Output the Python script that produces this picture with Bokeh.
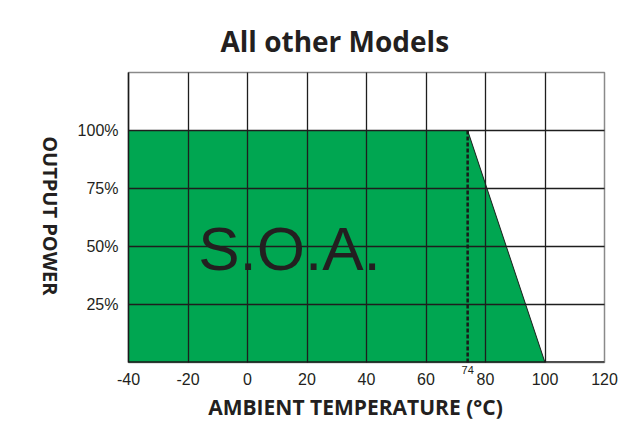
import math
from bokeh.plotting import figure
from bokeh.models import Range1d, FixedTicker, Label, LinearAxis, Span
from bokeh.embed import file_html
from bokeh.resources import INLINE

# data
soa_temp = [-40, -40, 74, 100]
soa_power = [0, 100, 100, 0]
derate_start = 74
x_ticks = [-40, -20, 0, 20, 40, 60, 80, 100, 120]
x_tick_labels = {-40: "-40", -20: "-20", 0: "0", 20: "20", 40: "40", 60: "60",
                 80: "80", 100: "100", 120: "120"}
y_ticks = [25, 50, 75, 100]
y_tick_labels = {25: "25%", 50: "50%", 75: "75%", 100: "100%"}
x_title = "AMBIENT TEMPERATURE (°C)"
y_title = "OUTPUT POWER"

# layout anchors for the axis titles (in axis units)
X_TITLE_AT = 36.3
Y_TITLE_END_AT = 28.9

p = figure(width=624, height=424, output_backend="svg", toolbar_location=None,
           x_range=Range1d(-40, 120), y_range=Range1d(0, 125),
           min_border_left=128, min_border_right=20, min_border_top=72, min_border_bottom=62)

p.title.text = "All other Models"
p.title.align = "left"
p.title.offset = 92
p.title.text_font = "Open Sans"
p.title.text_font_style = "bold"
p.title.text_font_size = "28px"
p.title.text_color = "#231f20"
p.title.standoff = 25

p.outline_line_color = "#8a8a8a"
p.outline_line_width = 1.5

# SOA area
p.patch(soa_temp, soa_power, fill_color="#00a651", line_color="#1a1a1a", line_width=1)

# grids
p.xaxis.ticker = FixedTicker(ticks=x_ticks)
p.yaxis.ticker = FixedTicker(ticks=y_ticks)
p.xgrid.ticker = FixedTicker(ticks=x_ticks)
p.ygrid.ticker = FixedTicker(ticks=y_ticks)
for g in (p.xgrid, p.ygrid):
    g.grid_line_color = "#1e1e1e"
    g.grid_line_width = 1.3
    g.level = "annotation"

# dashed line at 74
dl = p.line([derate_start, derate_start], [0, 100], line_color="#1a1a1a", line_width=2.5, line_dash="4 2")
dl.level = "overlay"

p.add_layout(Span(location=0, dimension="width", line_color="#1a1a1a", line_width=2.5, level="overlay"))


def bare_axis(ax):
    ax.axis_line_color = None
    ax.major_tick_line_color = None
    ax.minor_tick_line_color = None
    ax.major_label_text_color = "#231f20"
    return ax


main_x = bare_axis(p.xaxis[0])
main_x.major_label_text_font = "Liberation Sans"
main_x.major_label_text_font_size = "16px"
main_x.major_label_overrides = x_tick_labels
main_x.major_label_standoff = -10

# small "74" marker label just under the frame
ax74 = bare_axis(LinearAxis(ticker=FixedTicker(ticks=[derate_start])))
ax74.major_label_text_font = "Liberation Sans"
ax74.major_label_text_font_size = "11px"
ax74.major_label_standoff = -3

# x title
ax_xt = bare_axis(LinearAxis(ticker=FixedTicker(ticks=[X_TITLE_AT])))
ax_xt.major_label_overrides = {X_TITLE_AT: x_title}
ax_xt.major_label_text_font = "Open Sans"
ax_xt.major_label_text_font_style = "bold"
ax_xt.major_label_text_font_size = "21px"
ax_xt.major_label_standoff = -1

p.below = [ax74, main_x, ax_xt]

main_y = p.yaxis[0]
main_y.major_tick_line_color = None
main_y.minor_tick_line_color = None
main_y.axis_line_color = "#1a1a1a"
main_y.axis_line_width = 1.5
main_y.major_label_text_font = "Liberation Sans"
main_y.major_label_text_font_size = "16px"
main_y.major_label_text_color = "#231f20"
main_y.major_label_overrides = y_tick_labels
main_y.major_label_standoff = 4

ax_yt = bare_axis(LinearAxis(ticker=FixedTicker(ticks=[Y_TITLE_END_AT])))
ax_yt.major_label_overrides = {Y_TITLE_END_AT: y_title}
ax_yt.major_label_text_font = "Open Sans"
ax_yt.major_label_text_font_style = "bold"
ax_yt.major_label_text_font_size = "20px"
ax_yt.major_label_orientation = -math.pi / 2
ax_yt.major_label_standoff = 18

p.left = [main_y, ax_yt]

p.add_layout(Label(x=14.1, y=49, text="S.O.A.", text_font="Liberation Sans",
                   text_font_size="62px", text_align="center", text_baseline="middle",
                   text_color="#231f20"))

open("out.html", "w").write(file_html(p, INLINE))
